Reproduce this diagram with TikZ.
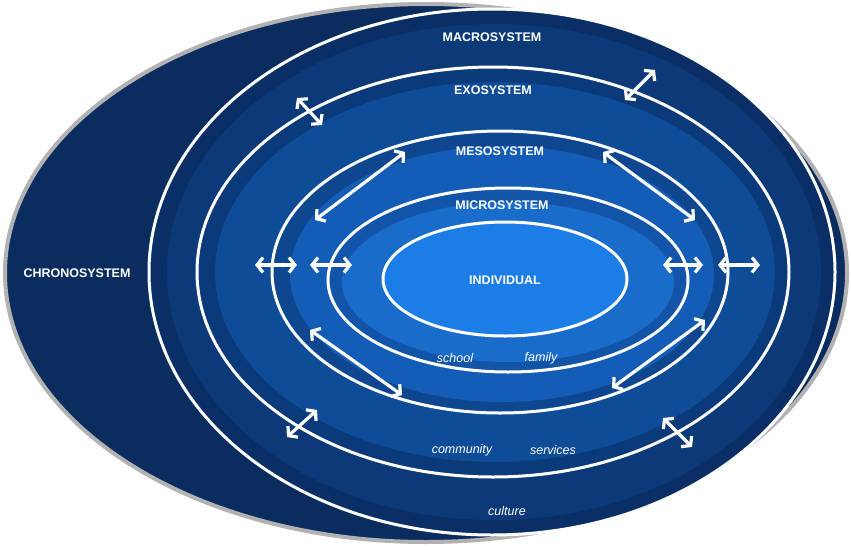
\documentclass[tikz,border=0pt]{standalone}
\usepackage{fontspec}
\setmainfont{Liberation Sans}
\usetikzlibrary{arrows.meta,shapes.geometric}
\definecolor{cA}{HTML}{0A2C5E}
\definecolor{cB}{HTML}{0C3A78}
\definecolor{cB2}{HTML}{0A2F66}
\definecolor{cC}{HTML}{0F4C98}
\definecolor{cC2}{HTML}{0B3A7A}
\definecolor{cD}{HTML}{145DB6}
\definecolor{cD2}{HTML}{0E4790}
\definecolor{cE}{HTML}{1A6CCB}
\definecolor{cE2}{HTML}{1254A8}
\definecolor{cF}{HTML}{1C7DE6}
\begin{document}
\begin{tikzpicture}[x=1pt,y=-1pt,
  ring/.style={draw=white,line width=3pt},
  lab/.style={text=white,font=\fontsize{12.5}{14}\selectfont\bfseries},
  ital/.style={text=white,font=\fontsize{12.5}{14}\selectfont\itshape},
  dbl/.style={draw=white,line width=3.2pt,{Straight Barb[length=6pt,width=15pt]}-{Straight Barb[length=6pt,width=15pt]}}]
\useasboundingbox (0,0) rectangle (851,549);
\fill[white] (0,0) rectangle (851,549);
% chrono
\path[fill=cA,draw=gray!60,line width=4pt] (426,273) ellipse [x radius=421,y radius=269];
% macro
\path[fill=cB2,ring] (492,272) ellipse [x radius=343,y radius=263];
\fill[cB] (494,272) ellipse [x radius=327,y radius=248];
% exo
\path[fill=cC2,ring] (493,272) ellipse [x radius=296,y radius=205];
\fill[cC] (495,272) ellipse [x radius=280,y radius=190];
% meso
\path[fill=cD2,ring] (500,272) ellipse [x radius=228,y radius=141];
\fill[cD] (502,274) ellipse [x radius=212,y radius=128];
% micro
\path[fill=cE2,ring] (508,280) ellipse [x radius=180,y radius=92];
\fill[cE] (508,282) ellipse [x radius=166,y radius=80];
% individual
\node[ellipse,draw=white,line width=3pt,fill=cF,minimum width=244pt,minimum height=114pt] (ind) at (505,279) {};
\node[lab] (tind) at (505,280) {INDIVIDUAL};
\node[lab] (tmac) at (492,37) {MACROSYSTEM};
\node[lab] (texo) at (493,90) {EXOSYSTEM};
\node[lab] (tmes) at (500,151) {MESOSYSTEM};
\node[lab] (tmic) at (502,205) {MICROSYSTEM};
\node[lab] (tchr) at (77,273) {CHRONOSYSTEM};
\node[ital] (ts) at (455,358) {school};
\node[ital] (tf) at (541,358) {family};
\node[ital] (tc) at (462,450) {community};
\node[ital] (tsv) at (553,450) {services};
\node[ital] (tcu) at (507,511) {culture};
% arrows
\foreach \n/\a/\b in {a1/{297,98}/{322,125},a2/{625,100}/{655,70},a3/{287,437}/{317,410},a4/{663,418}/{692,447},
  b1/{315,220}/{405,152},b2/{603,152}/{695,220},b3/{310,330}/{402,395},b4/{612,388}/{705,320},
  c1/{255,265}/{297,265},c2/{310,265}/{352,265},c3/{663,265}/{703,265},c4/{718,265}/{760,265}}{
  \coordinate (\n s) at (\a); \coordinate (\n e) at (\b);
  \draw[dbl] (\n s) -- (\n e);}
\end{tikzpicture}
\end{document}
